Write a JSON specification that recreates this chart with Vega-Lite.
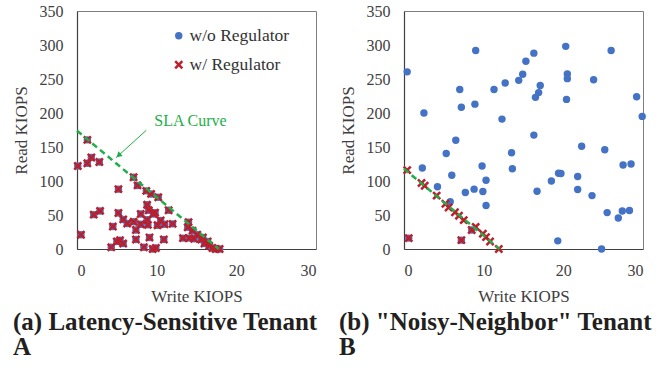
{
  "$schema": "https://vega.github.io/schema/vega-lite/v6.json",
  "padding": {"left": 11, "top": 2, "right": 0, "bottom": 0},
  "spacing": 19,
  "config": {
    "font": "Liberation Serif",
    "view": {"stroke": "#7f7f7f", "strokeWidth": 1},
    "axis": {"grid": false, "ticks": false, "tickSize": 0, "labelOverlap": false, "domainColor": "#404040", "domainWidth": 1.2,
      "labelFont": "Liberation Serif", "labelFontSize": 16, "labelColor": "#404040",
      "titleFont": "Liberation Serif", "titleFontSize": 17, "titleFontWeight": "normal", "titleColor": "#404040"},
    "axisX": {"labelPadding": 13, "titlePadding": 10},
    "axisY": {"labelPadding": 14, "titlePadding": 9},
    "title": {"font": "Liberation Serif", "fontSize": 25, "fontWeight": "bold", "color": "#231f20"}
  },
  "datasets": {
    "pts": [
      {"panel":"A","series":"w/o Regulator","write":0.1,"read":122},{"panel":"A","series":"w/o Regulator","write":0.5,"read":21},{"panel":"A","series":"w/o Regulator","write":1.3,"read":160.5},{"panel":"A","series":"w/o Regulator","write":1.3,"read":126},{"panel":"A","series":"w/o Regulator","write":1.8,"read":134.5},{"panel":"A","series":"w/o Regulator","write":2.8,"read":128},{"panel":"A","series":"w/o Regulator","write":2.1,"read":50.5},{"panel":"A","series":"w/o Regulator","write":2.9,"read":56},{"panel":"A","series":"w/o Regulator","write":4.5,"read":33},{"panel":"A","series":"w/o Regulator","write":4.3,"read":2.5},{"panel":"A","series":"w/o Regulator","write":5.2,"read":88},{"panel":"A","series":"w/o Regulator","write":5.2,"read":53},{"panel":"A","series":"w/o Regulator","write":5.0,"read":11},{"panel":"A","series":"w/o Regulator","write":5.4,"read":13},{"panel":"A","series":"w/o Regulator","write":5.8,"read":8},{"panel":"A","series":"w/o Regulator","write":5.8,"read":43.5},{"panel":"A","series":"w/o Regulator","write":6.3,"read":37.5},{"panel":"A","series":"w/o Regulator","write":7.1,"read":105.5},{"panel":"A","series":"w/o Regulator","write":7.1,"read":40},{"panel":"A","series":"w/o Regulator","write":7.4,"read":28},{"panel":"A","series":"w/o Regulator","write":7.6,"read":93.5},{"panel":"A","series":"w/o Regulator","write":7.4,"read":14},{"panel":"A","series":"w/o Regulator","write":8.0,"read":51.5},{"panel":"A","series":"w/o Regulator","write":8.0,"read":36.5},{"panel":"A","series":"w/o Regulator","write":8.4,"read":2.5},{"panel":"A","series":"w/o Regulator","write":8.7,"read":85.5},{"panel":"A","series":"w/o Regulator","write":8.8,"read":65},{"panel":"A","series":"w/o Regulator","write":8.8,"read":43},{"panel":"A","series":"w/o Regulator","write":9.0,"read":57},{"panel":"A","series":"w/o Regulator","write":8.9,"read":35.5},{"panel":"A","series":"w/o Regulator","write":9.1,"read":17},{"panel":"A","series":"w/o Regulator","write":9.3,"read":81},{"panel":"A","series":"w/o Regulator","write":9.6,"read":51.5},{"panel":"A","series":"w/o Regulator","write":9.8,"read":53.5},{"panel":"A","series":"w/o Regulator","write":9.5,"read":0},{"panel":"A","series":"w/o Regulator","write":9.9,"read":1.5},{"panel":"A","series":"w/o Regulator","write":10.2,"read":76},{"panel":"A","series":"w/o Regulator","write":10.1,"read":35},{"panel":"A","series":"w/o Regulator","write":10.5,"read":42},{"panel":"A","series":"w/o Regulator","write":10.9,"read":14},{"panel":"A","series":"w/o Regulator","write":11.0,"read":36.5},{"panel":"A","series":"w/o Regulator","write":11.5,"read":57},{"panel":"A","series":"w/o Regulator","write":12.0,"read":37},{"panel":"A","series":"w/o Regulator","write":13.3,"read":16},{"panel":"A","series":"w/o Regulator","write":14.0,"read":39.5},{"panel":"A","series":"w/o Regulator","write":13.9,"read":32},{"panel":"A","series":"w/o Regulator","write":14.1,"read":16},{"panel":"A","series":"w/o Regulator","write":14.5,"read":27},{"panel":"A","series":"w/o Regulator","write":14.7,"read":15},{"panel":"A","series":"w/o Regulator","write":15.1,"read":21},{"panel":"A","series":"w/o Regulator","write":15.6,"read":14},{"panel":"A","series":"w/o Regulator","write":15.8,"read":17},{"panel":"A","series":"w/o Regulator","write":16.0,"read":8},{"panel":"A","series":"w/o Regulator","write":16.4,"read":11},{"panel":"A","series":"w/o Regulator","write":16.6,"read":5},{"panel":"A","series":"w/o Regulator","write":17.0,"read":1.5},{"panel":"A","series":"w/o Regulator","write":17.4,"read":0},{"panel":"A","series":"w/o Regulator","write":17.9,"read":0},
      {"panel":"A","series":"w/ Regulator","write":0.1,"read":122},{"panel":"A","series":"w/ Regulator","write":0.5,"read":21},{"panel":"A","series":"w/ Regulator","write":1.3,"read":160.5},{"panel":"A","series":"w/ Regulator","write":1.3,"read":126},{"panel":"A","series":"w/ Regulator","write":1.8,"read":134.5},{"panel":"A","series":"w/ Regulator","write":2.8,"read":128},{"panel":"A","series":"w/ Regulator","write":2.1,"read":50.5},{"panel":"A","series":"w/ Regulator","write":2.9,"read":56},{"panel":"A","series":"w/ Regulator","write":4.5,"read":33},{"panel":"A","series":"w/ Regulator","write":4.3,"read":2.5},{"panel":"A","series":"w/ Regulator","write":5.2,"read":88},{"panel":"A","series":"w/ Regulator","write":5.2,"read":53},{"panel":"A","series":"w/ Regulator","write":5.0,"read":11},{"panel":"A","series":"w/ Regulator","write":5.4,"read":13},{"panel":"A","series":"w/ Regulator","write":5.8,"read":8},{"panel":"A","series":"w/ Regulator","write":5.8,"read":43.5},{"panel":"A","series":"w/ Regulator","write":6.3,"read":37.5},{"panel":"A","series":"w/ Regulator","write":7.1,"read":105.5},{"panel":"A","series":"w/ Regulator","write":7.1,"read":40},{"panel":"A","series":"w/ Regulator","write":7.4,"read":28},{"panel":"A","series":"w/ Regulator","write":7.6,"read":93.5},{"panel":"A","series":"w/ Regulator","write":7.4,"read":14},{"panel":"A","series":"w/ Regulator","write":8.0,"read":51.5},{"panel":"A","series":"w/ Regulator","write":8.0,"read":36.5},{"panel":"A","series":"w/ Regulator","write":8.4,"read":2.5},{"panel":"A","series":"w/ Regulator","write":8.7,"read":85.5},{"panel":"A","series":"w/ Regulator","write":8.8,"read":65},{"panel":"A","series":"w/ Regulator","write":8.8,"read":43},{"panel":"A","series":"w/ Regulator","write":9.0,"read":57},{"panel":"A","series":"w/ Regulator","write":8.9,"read":35.5},{"panel":"A","series":"w/ Regulator","write":9.1,"read":17},{"panel":"A","series":"w/ Regulator","write":9.3,"read":81},{"panel":"A","series":"w/ Regulator","write":9.6,"read":51.5},{"panel":"A","series":"w/ Regulator","write":9.8,"read":53.5},{"panel":"A","series":"w/ Regulator","write":9.5,"read":0},{"panel":"A","series":"w/ Regulator","write":9.9,"read":1.5},{"panel":"A","series":"w/ Regulator","write":10.2,"read":76},{"panel":"A","series":"w/ Regulator","write":10.1,"read":35},{"panel":"A","series":"w/ Regulator","write":10.5,"read":42},{"panel":"A","series":"w/ Regulator","write":10.9,"read":14},{"panel":"A","series":"w/ Regulator","write":11.0,"read":36.5},{"panel":"A","series":"w/ Regulator","write":11.5,"read":57},{"panel":"A","series":"w/ Regulator","write":12.0,"read":37},{"panel":"A","series":"w/ Regulator","write":13.3,"read":16},{"panel":"A","series":"w/ Regulator","write":14.0,"read":39.5},{"panel":"A","series":"w/ Regulator","write":13.9,"read":32},{"panel":"A","series":"w/ Regulator","write":14.1,"read":16},{"panel":"A","series":"w/ Regulator","write":14.5,"read":27},{"panel":"A","series":"w/ Regulator","write":14.7,"read":15},{"panel":"A","series":"w/ Regulator","write":15.1,"read":21},{"panel":"A","series":"w/ Regulator","write":15.6,"read":14},{"panel":"A","series":"w/ Regulator","write":15.8,"read":17},{"panel":"A","series":"w/ Regulator","write":16.0,"read":8},{"panel":"A","series":"w/ Regulator","write":16.4,"read":11},{"panel":"A","series":"w/ Regulator","write":16.6,"read":5},{"panel":"A","series":"w/ Regulator","write":17.0,"read":1.5},{"panel":"A","series":"w/ Regulator","write":17.4,"read":0},{"panel":"A","series":"w/ Regulator","write":17.9,"read":0},
      {"panel":"B","series":"w/o Regulator","write":0.4,"read":260.5},{"panel":"B","series":"w/o Regulator","write":0.6,"read":16},{"panel":"B","series":"w/o Regulator","write":2.5,"read":200},{"panel":"B","series":"w/o Regulator","write":2.3,"read":119},{"panel":"B","series":"w/o Regulator","write":4.2,"read":91.5},{"panel":"B","series":"w/o Regulator","write":5.3,"read":140.5},{"panel":"B","series":"w/o Regulator","write":5.8,"read":69.5},{"panel":"B","series":"w/o Regulator","write":6.0,"read":108.5},{"panel":"B","series":"w/o Regulator","write":6.5,"read":160},{"panel":"B","series":"w/o Regulator","write":7.0,"read":234.5},{"panel":"B","series":"w/o Regulator","write":7.2,"read":208.5},{"panel":"B","series":"w/o Regulator","write":7.7,"read":83},{"panel":"B","series":"w/o Regulator","write":7.2,"read":13},{"panel":"B","series":"w/o Regulator","write":9.0,"read":292},{"panel":"B","series":"w/o Regulator","write":8.9,"read":213},{"panel":"B","series":"w/o Regulator","write":8.8,"read":88},{"panel":"B","series":"w/o Regulator","write":8.5,"read":28},{"panel":"B","series":"w/o Regulator","write":9.8,"read":122},{"panel":"B","series":"w/o Regulator","write":9.9,"read":84.5},{"panel":"B","series":"w/o Regulator","write":10.3,"read":101},{"panel":"B","series":"w/o Regulator","write":10.3,"read":64},{"panel":"B","series":"w/o Regulator","write":11.3,"read":234.5},{"panel":"B","series":"w/o Regulator","write":12.3,"read":191},{"panel":"B","series":"w/o Regulator","write":12.7,"read":244},{"panel":"B","series":"w/o Regulator","write":13.5,"read":141.5},{"panel":"B","series":"w/o Regulator","write":13.6,"read":118},{"panel":"B","series":"w/o Regulator","write":14.4,"read":248},{"panel":"B","series":"w/o Regulator","write":14.9,"read":257},{"panel":"B","series":"w/o Regulator","write":15.3,"read":276},{"panel":"B","series":"w/o Regulator","write":16.3,"read":288},{"panel":"B","series":"w/o Regulator","write":16.3,"read":167.5},{"panel":"B","series":"w/o Regulator","write":16.5,"read":223},{"panel":"B","series":"w/o Regulator","write":16.7,"read":85},{"panel":"B","series":"w/o Regulator","write":16.9,"read":230},{"panel":"B","series":"w/o Regulator","write":17.1,"read":240.5},{"panel":"B","series":"w/o Regulator","write":18.5,"read":100},{"panel":"B","series":"w/o Regulator","write":19.4,"read":111.5},{"panel":"B","series":"w/o Regulator","write":19.7,"read":111},{"panel":"B","series":"w/o Regulator","write":19.3,"read":12},{"panel":"B","series":"w/o Regulator","write":20.3,"read":298},{"panel":"B","series":"w/o Regulator","write":20.5,"read":257.5},{"panel":"B","series":"w/o Regulator","write":20.5,"read":250.5},{"panel":"B","series":"w/o Regulator","write":20.4,"read":220},{"panel":"B","series":"w/o Regulator","write":21.8,"read":106.5},{"panel":"B","series":"w/o Regulator","write":21.8,"read":87.5},{"panel":"B","series":"w/o Regulator","write":22.3,"read":151},{"panel":"B","series":"w/o Regulator","write":23.6,"read":78.5},{"panel":"B","series":"w/o Regulator","write":23.8,"read":249},{"panel":"B","series":"w/o Regulator","write":24.8,"read":0},{"panel":"B","series":"w/o Regulator","write":25.2,"read":146},{"panel":"B","series":"w/o Regulator","write":25.5,"read":53.5},{"panel":"B","series":"w/o Regulator","write":26.0,"read":292},{"panel":"B","series":"w/o Regulator","write":26.9,"read":45.5},{"panel":"B","series":"w/o Regulator","write":27.4,"read":56},{"panel":"B","series":"w/o Regulator","write":27.5,"read":123.5},{"panel":"B","series":"w/o Regulator","write":28.3,"read":56.5},{"panel":"B","series":"w/o Regulator","write":28.5,"read":125},{"panel":"B","series":"w/o Regulator","write":29.2,"read":224},{"panel":"B","series":"w/o Regulator","write":29.9,"read":195},
      {"panel":"B","series":"w/ Regulator","write":0.4,"read":116},{"panel":"B","series":"w/ Regulator","write":0.6,"read":16},{"panel":"B","series":"w/ Regulator","write":2.2,"read":97},{"panel":"B","series":"w/ Regulator","write":2.6,"read":93},{"panel":"B","series":"w/ Regulator","write":4.1,"read":78.5},{"panel":"B","series":"w/ Regulator","write":5.2,"read":66.5},{"panel":"B","series":"w/ Regulator","write":5.6,"read":61},{"panel":"B","series":"w/ Regulator","write":6.4,"read":54},{"panel":"B","series":"w/ Regulator","write":6.9,"read":49},{"panel":"B","series":"w/ Regulator","write":7.5,"read":42.5},{"panel":"B","series":"w/ Regulator","write":7.2,"read":13},{"panel":"B","series":"w/ Regulator","write":8.5,"read":28},{"panel":"B","series":"w/ Regulator","write":9.0,"read":32.5},{"panel":"B","series":"w/ Regulator","write":9.9,"read":22.5},{"panel":"B","series":"w/ Regulator","write":10.3,"read":17.5},{"panel":"B","series":"w/ Regulator","write":10.8,"read":11},{"panel":"B","series":"w/ Regulator","write":11.9,"read":0}
    ],
    "sla": [
      {"panel":"A","write":0,"read":174},{"panel":"A","write":17.8,"read":0},
      {"panel":"B","write":0,"read":118},{"panel":"B","write":12,"read":0}
    ],
    "label": [{"text":"SLA Curve","write":9.7,"read":188}],
    "arrow": [{"write":8.7,"read":174.6,"write2":4.9,"read2":134.3}],
    "head": [{"write":5.3,"read":138.5}]
  },
  "hconcat": [
    {
      "width": 239, "height": 238,
      "title": {"text": ["(a) Latency-Sensitive Tenant", "A"], "orient": "bottom", "anchor": "start", "frame": "group", "dx": -64, "offset": 6, "lineHeight": 25},
      "encoding": {
        "x": {"field": "write", "type": "quantitative", "scale": {"domain": [0, 30]}, "axis": {"values": [0, 10, 20, 30], "title": "Write KIOPS"}},
        "y": {"field": "read", "type": "quantitative", "scale": {"domain": [0, 350]}, "axis": {"values": [0, 50, 100, 150, 200, 250, 300, 350], "title": "Read KIOPS"}}
      },
      "layer": [
        {
          "data": {"name": "pts"},
          "transform": [{"filter": "datum.panel === 'A'"}],
          "mark": {"type": "point", "filled": true, "size": 55, "opacity": 1},
          "encoding": {
            "color": {"field": "series", "type": "nominal", "scale": {"domain": ["w/o Regulator", "w/ Regulator"], "range": ["#4472C4", "#BC1F2B"]},
              "legend": {"orient": "none", "legendX": 93, "legendY": 16, "title": null, "labelFontSize": 17.5, "labelFont": "Liberation Serif", "labelColor": "#333333", "symbolSize": 55, "rowPadding": 10, "labelOffset": 2, "padding": 0}},
            "shape": {"field": "series", "type": "nominal", "scale": {"domain": ["w/o Regulator", "w/ Regulator"], "range": ["circle", "M-1.2,-0.72L-0.72,-1.2L0,-0.48L0.72,-1.2L1.2,-0.72L0.48,0L1.2,0.72L0.72,1.2L0,0.48L-0.72,1.2L-1.2,0.72L-0.48,0Z"]},
              "legend": {"orient": "none", "legendX": 93, "legendY": 16, "title": null, "labelFontSize": 17.5, "labelFont": "Liberation Serif", "labelColor": "#333333", "symbolSize": 55, "rowPadding": 10, "labelOffset": 2, "padding": 0}}
          }
        },
        {
          "data": {"name": "sla"},
          "transform": [{"filter": "datum.panel === 'A'"}],
          "mark": {"type": "line", "color": "#1DAF4A", "strokeDash": [6, 4], "strokeWidth": 2.5}
        },
        {
          "data": {"name": "label"},
          "mark": {"type": "text", "align": "left", "baseline": "middle", "color": "#1DAF4A", "fontSize": 16, "font": "Liberation Serif"},
          "encoding": {"text": {"field": "text"}}
        },
        {
          "data": {"name": "arrow"},
          "mark": {"type": "rule", "color": "#1DAF4A", "strokeWidth": 1},
          "encoding": {"x2": {"field": "write2"}, "y2": {"field": "read2"}}
        },
        {
          "data": {"name": "head"},
          "mark": {"type": "point", "shape": "triangle", "filled": true, "color": "#1DAF4A", "size": 40, "angle": 228, "opacity": 1}
        }
      ]
    },
    {
      "width": 239, "height": 238,
      "title": {"text": ["(b) \"Noisy-Neighbor\" Tenant", "B"], "orient": "bottom", "anchor": "start", "frame": "group", "dx": -65, "offset": 6, "lineHeight": 25},
      "encoding": {
        "x": {"field": "write", "type": "quantitative", "scale": {"domain": [0, 30]}, "axis": {"values": [0, 10, 20, 30], "title": "Write KIOPS"}},
        "y": {"field": "read", "type": "quantitative", "scale": {"domain": [0, 350]}, "axis": {"values": [0, 50, 100, 150, 200, 250, 300, 350], "title": "Read KIOPS"}}
      },
      "layer": [
        {
          "data": {"name": "pts"},
          "transform": [{"filter": "datum.panel === 'B'"}],
          "mark": {"type": "point", "filled": true, "size": 55, "opacity": 1},
          "encoding": {
            "color": {"field": "series", "type": "nominal", "scale": {"domain": ["w/o Regulator", "w/ Regulator"], "range": ["#4472C4", "#BC1F2B"]},
              "legend": {"orient": "none", "legendX": 93, "legendY": 16, "title": null, "labelFontSize": 17.5, "labelFont": "Liberation Serif", "labelColor": "#333333", "symbolSize": 55, "rowPadding": 10, "labelOffset": 2, "padding": 0}},
            "shape": {"field": "series", "type": "nominal", "scale": {"domain": ["w/o Regulator", "w/ Regulator"], "range": ["circle", "M-1.2,-0.72L-0.72,-1.2L0,-0.48L0.72,-1.2L1.2,-0.72L0.48,0L1.2,0.72L0.72,1.2L0,0.48L-0.72,1.2L-1.2,0.72L-0.48,0Z"]},
              "legend": {"orient": "none", "legendX": 93, "legendY": 16, "title": null, "labelFontSize": 17.5, "labelFont": "Liberation Serif", "labelColor": "#333333", "symbolSize": 55, "rowPadding": 10, "labelOffset": 2, "padding": 0}}
          }
        },
        {
          "data": {"name": "sla"},
          "transform": [{"filter": "datum.panel === 'B'"}],
          "mark": {"type": "line", "color": "#1DAF4A", "strokeDash": [6, 4], "strokeWidth": 2.5}
        }
      ]
    }
  ]
}
